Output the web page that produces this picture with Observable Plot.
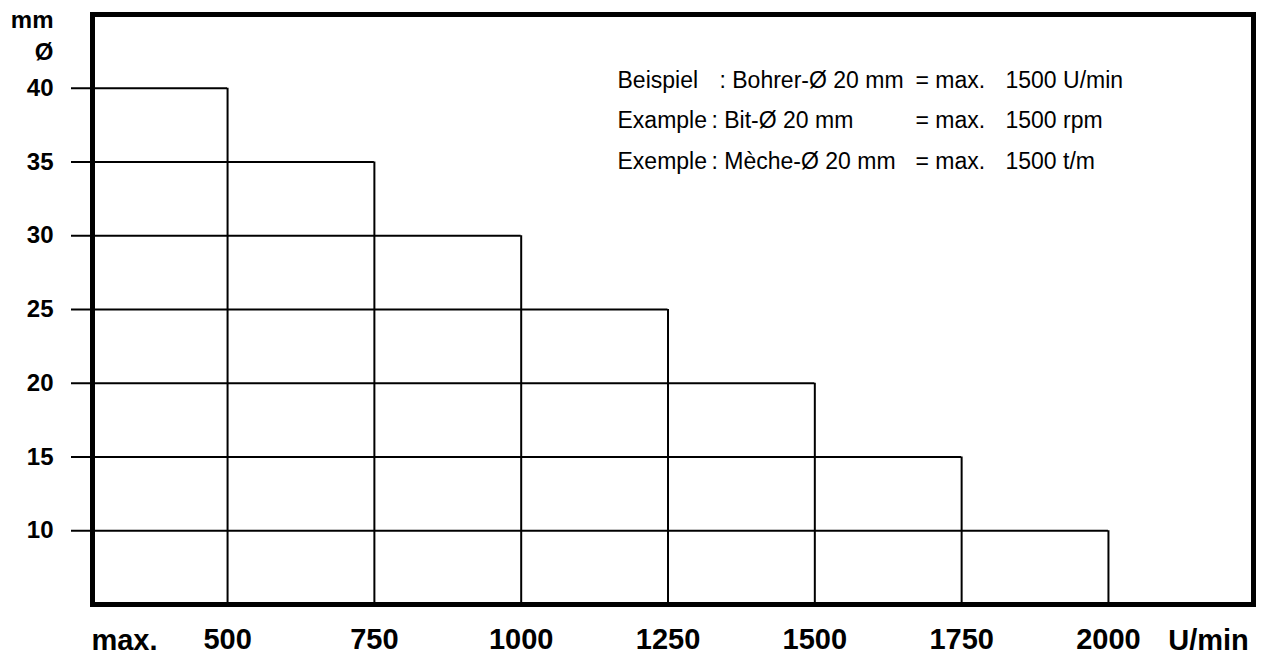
<!DOCTYPE html>
<html>
<head>
<meta charset="utf-8">
<script src="https://cdn.jsdelivr.net/npm/d3@7"></script>
<script src="https://cdn.jsdelivr.net/npm/@observablehq/plot@0.6"></script>
<style>
  html, body { margin: 0; padding: 0; background: #fff; }
  #chart { width: 1267px; height: 654px; }
</style>
</head>
<body>
<div id="chart"></div>
<script>
// ---- data ----
const rpm = [500, 750, 1000, 1250, 1500, 1750, 2000];
const diameter = [40, 35, 30, 25, 20, 15, 10];
const yTicks = [10, 15, 20, 25, 30, 35, 40];
const xTicks = [500, 750, 1000, 1250, 1500, 1750, 2000];
const xDomain = [270, 2247];
const yDomain = [5, 45];
const exampleLabels = ["Beispiel", "Example", "Exemple"];
const exampleTools = [": Bohrer-Ø 20 mm", ": Bit-Ø 20 mm", ": Mèche-Ø 20 mm"];
const exampleMax = ["= max.", "= max.", "= max."];
const exampleSpeeds = ["1500 U/min", "1500 rpm", "1500 t/m"];

const steps = rpm.map((r, i) => ({rpm: r, d: diameter[i]}));
const FONT = "'Liberation Sans', Arial, Helvetica, sans-serif";

const annoMarks = [];
const toolDx = [627, 619, 619];
exampleLabels.forEach((lab, i) => {
  const dy = 73 + i * 40.5;
  const common = {frameAnchor: "top-left", lineAnchor: "bottom", textAnchor: "start", dy, fontSize: 23, fill: "#000"};
  annoMarks.push(Plot.text([lab], {...common, text: d => d, dx: 525}));
  annoMarks.push(Plot.text([exampleTools[i]], {...common, text: d => d, dx: toolDx[i]}));
  annoMarks.push(Plot.text([exampleMax[i]], {...common, text: d => d, dx: 823, letterSpacing: "0.8px"}));
  annoMarks.push(Plot.text([exampleSpeeds[i]], {...common, text: d => d, dx: 913}));
});

const chart = Plot.plot({
  width: 1267,
  height: 654,
  marginLeft: 92,
  marginRight: 14,
  marginTop: 14,
  marginBottom: 50,
  style: {fontFamily: FONT, background: "#fff", color: "#000", overflow: "visible"},
  x: {domain: xDomain, axis: null},
  y: {domain: yDomain, axis: null},
  marks: [
    Plot.ruleY(steps, {y: "d", x1: xDomain[0], x2: "rpm", stroke: "#000", strokeWidth: 2}),
    Plot.ruleX(steps, {x: "rpm", y1: yDomain[0], y2: "d", stroke: "#000", strokeWidth: 2}),
    Plot.axisY(yTicks, {tickSize: 21, tickPadding: 18, fontSize: 24, fontWeight: "bold", strokeWidth: 2, label: null, tickFormat: d => String(d)}),
    Plot.axisX(xTicks, {tickSize: 0, tickPadding: 24, fontSize: 29, fontWeight: "bold", label: null, tickFormat: d => String(d)}),
    Plot.frame({stroke: "#000", strokeWidth: 5}),
    Plot.text(["max."], {frameAnchor: "bottom-left", text: d => d, dx: 32, dy: 45, lineAnchor: "bottom", textAnchor: "middle", fontSize: 29, fontWeight: "bold"}),
    Plot.text(["U/min"], {frameAnchor: "bottom-right", text: d => d, dx: -45, dy: 45, lineAnchor: "bottom", textAnchor: "middle", fontSize: 29, fontWeight: "bold"}),
    Plot.text(["mm"], {frameAnchor: "top-left", text: d => d, dx: -39, dy: 13, lineAnchor: "bottom", textAnchor: "end", fontSize: 24, fontWeight: "bold"}),
    Plot.text(["Ø"], {frameAnchor: "top-left", text: d => d, dx: -39, dy: 45, lineAnchor: "bottom", textAnchor: "end", fontSize: 24, fontWeight: "bold"}),
    ...annoMarks
  ]
});
document.getElementById("chart").appendChild(chart);
</script>
</body>
</html>
